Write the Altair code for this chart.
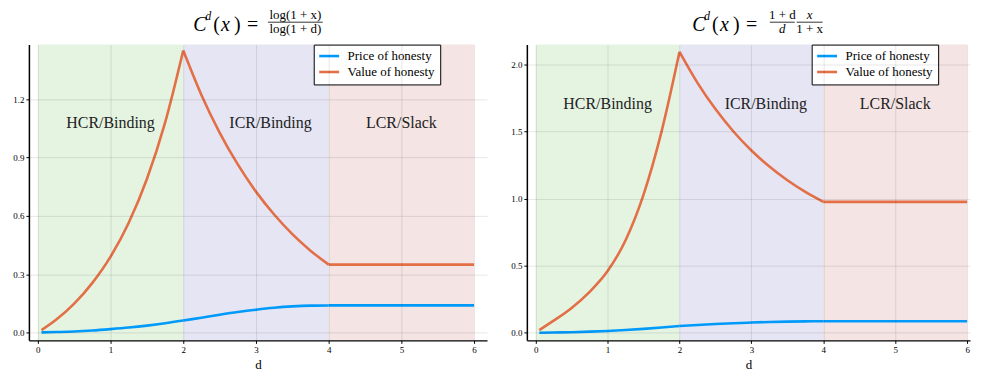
import altair as alt
import pandas as pd

# ---------------- data ----------------
d_vals = [0.05, 0.25, 0.5, 0.75, 1.0, 1.25, 1.5, 1.75, 2.0,
          2.25, 2.5, 2.75, 3.0, 3.25, 3.5, 3.75, 4.0, 6.0]

left_price = [0.0, 0.002, 0.005, 0.01, 0.017, 0.025, 0.035, 0.047, 0.061,
              0.076, 0.091, 0.105, 0.117, 0.127, 0.134, 0.138, 0.139, 0.139]
left_value = [0.012, 0.065, 0.148, 0.255, 0.39, 0.565, 0.79, 1.08, 1.452,
              1.223, 1.029, 0.865, 0.725, 0.607, 0.506, 0.421, 0.349, 0.349]

right_price = [0.0, 0.002, 0.004, 0.008, 0.013, 0.02, 0.029, 0.039, 0.05,
               0.058, 0.065, 0.071, 0.076, 0.08, 0.083, 0.085, 0.086, 0.086]
right_value = [0.02, 0.09, 0.185, 0.305, 0.46, 0.69, 1.03, 1.5, 2.095,
               1.864, 1.668, 1.501, 1.359, 1.239, 1.137, 1.05, 0.976, 0.976]

series_names = ["Price of honesty", "Value of honesty"]
series_colors = ["#009AFA", "#E36F47"]

region_names = ["HCR/Binding", "ICR/Binding", "LCR/Slack"]
region_start = [0, 2, 4]
region_end = [2, 4, 6]
region_label_x = [1, 3.2, 5]
region_fill = ["#e4f4e1", "#e5e5f4", "#f4e4e4"]
left_label_y = 1.05
right_label_y = 1.672

x_ticks = [0, 1, 2, 3, 4, 5, 6]
left_y_ticks = [0.0, 0.3, 0.6, 0.9, 1.2]
right_y_ticks = [0.0, 0.5, 1.0, 1.5, 2.0]

FONT = "Liberation Serif"
H = 297


def seg_names(d):
    out = []
    if d <= 2:
        out.append("HCR")
    if 2 <= d <= 4:
        out.append("ICR")
    if d >= 4:
        out.append("LCR")
    return out


def long_df(price, value):
    rows = []
    for name, vals in zip(series_names, [price, value]):
        for d, v in zip(d_vals, vals):
            for s in seg_names(d):
                rows.append({"d": d, "v": v, "series": name, "seg": name + s})
    return pd.DataFrame(rows)


one = alt.InlineData(values=[{}])


def piece(text, x, y, size, italic=False, align="left"):
    kw = dict(text=text, font=FONT, fontSize=size, align=align,
              baseline="alphabetic", color="black")
    if italic:
        kw["fontStyle"] = "italic"
    return alt.Chart(one).mark_text(**kw).encode(x=alt.value(x), y=alt.value(y))


def bar(x1, x2, y):
    return alt.Chart(one).mark_rule(color="black", strokeWidth=0.8).encode(
        x=alt.value(x1), x2=alt.value(x2), y=alt.value(y))


def panel(price, value, xdom, ydom, yticks, label_y, width, title_layers):
    xs = alt.Scale(domain=xdom, nice=False, zero=False)
    ys = alt.Scale(domain=ydom, nice=False, zero=False)
    xaxis = alt.Axis(values=x_ticks, format="d", title="d", grid=True,
                     gridColor="black", gridOpacity=0.1, domainColor="black",
                     domainWidth=1.5, tickColor="black", tickSize=3,
                     labelFont=FONT, labelFontSize=9, labelColor="black",
                     labelPadding=2, labelFlush=False, titleFont=FONT,
                     titleFontSize=13, titleFontWeight="normal",
                     titleColor="black", titlePadding=4, zindex=1)
    yaxis = alt.Axis(values=yticks, format=".1f", title=None, grid=True,
                     gridColor="black", gridOpacity=0.1, domainColor="black",
                     domainWidth=1.5, tickColor="black", tickSize=3,
                     labelFont=FONT, labelFontSize=9, labelColor="black",
                     labelPadding=2, labelFlush=False, zindex=1)

    reg = pd.DataFrame({"region": region_names, "start": region_start,
                        "end": region_end, "lx": region_label_x,
                        "ly": [label_y] * 3})
    rects = alt.Chart(reg).mark_rect().encode(
        x=alt.X("start:Q", scale=xs, axis=xaxis),
        x2="end:Q",
        fill=alt.Fill("region:N", scale=alt.Scale(domain=region_names,
                                                  range=region_fill),
                      legend=None),
    )
    labels = alt.Chart(reg).mark_text(font=FONT, fontSize=16, align="center",
                                      baseline="alphabetic",
                                      color="#222222").encode(
        x=alt.X("lx:Q", scale=xs),
        y=alt.Y("ly:Q", scale=ys, axis=yaxis),
        text="region:N",
    )
    lines = alt.Chart(long_df(price, value)).mark_line(
        strokeWidth=2.6, interpolate="monotone").encode(
        x=alt.X("d:Q", scale=xs),
        y=alt.Y("v:Q", scale=ys),
        color=alt.Color("series:N",
                        scale=alt.Scale(domain=series_names,
                                        range=series_colors),
                        legend=alt.Legend(title=None, orient="none",
                                          legendX=286, legendY=0,
                                          fillColor="white",
                                          strokeColor="black", padding=5,
                                          symbolType="M-2,0H2",
                                          symbolSize=100,
                                          symbolOffset=4,
                                          symbolStrokeWidth=2.6,
                                          labelFont=FONT, labelFontSize=13,
                                          labelColor="black",
                                          labelOffset=12, rowPadding=2,
                                          cornerRadius=0)),
        detail="seg:N",
        order=alt.Order("d:Q"),
    )
    return alt.layer(rects, labels, lines, *title_layers).properties(
        width=width, height=H)


left_title = [
    piece("C", 165, -14, 20, italic=True),
    piece("d", 177, -25, 12, italic=True),
    piece("(", 185, -14, 20),
    piece("x", 193, -14, 20, italic=True),
    piece(")", 206, -14, 20),
    piece("=", 219, -14, 20),
    piece("log(1 + x)", 267.5, -26, 13, align="center"),
    bar(240, 295, -22.5),
    piece("log(1 + d)", 267.5, -11.5, 13, align="center"),
]

right_title = [
    piece("C", 166, -14, 20, italic=True),
    piece("d", 178, -25, 12, italic=True),
    piece("(", 186, -14, 20),
    piece("x", 194, -14, 20, italic=True),
    piece(")", 207, -14, 20),
    piece("=", 220, -14, 20),
    piece("1 + d", 256.5, -26, 13, align="center"),
    bar(244, 269, -22.5),
    piece("d", 256.5, -11.5, 13, italic=True, align="center"),
    piece("x", 284, -26, 13, italic=True, align="center"),
    bar(271, 297, -22.5),
    piece("1 + x", 284, -11.5, 13, align="center"),
]

left = panel(left_price, left_value, [-0.123, 6.178], [-0.041, 1.482],
             left_y_ticks, left_label_y, 460, left_title)
right = panel(right_price, right_value, [-0.123, 6.04], [-0.057, 2.149],
              right_y_ticks, right_label_y, 445, right_title)

chart = alt.hconcat(left, right, spacing=23).resolve_scale(
    x="independent", y="independent", color="independent",
    fill="independent").resolve_legend(color="independent").properties(
    padding={"left": 4, "top": 0, "right": 0, "bottom": 0},
    background="white",
).configure_view(stroke=None)

chart.save("out.html", embed_options={"renderer": "svg", "actions": False})
